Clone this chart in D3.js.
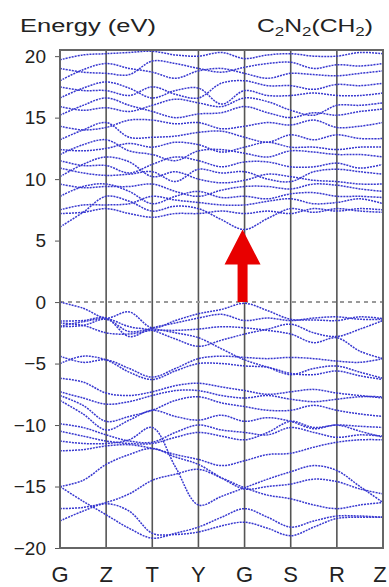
<!DOCTYPE html>
<html>
<head>
<meta charset="utf-8">
<script src="https://cdn.jsdelivr.net/npm/d3@7"></script>
<style>
  body { margin: 0; background: #fff; }
  svg { display: block; }
</style>
</head>
<body>
<div id="chart"></div>
<script>
// high symmetry points along the path
var kLabels = ["G", "Z", "T", "Y", "G", "S", "R", "Z"];
// energies are read at every k-point and half way between them
var kSamples = [0, 0.5, 1, 1.5, 2, 2.5, 3, 3.5, 4, 4.5, 5, 5.5, 6, 6.5, 7];
var energyTicks = [-20, -15, -10, -5, 0, 5, 10, 15, 20];

var valenceBands = [
  [0.0, -0.5, -1.3, -0.8, -2.1, -1.5, -0.95, -0.6, -0.1, -0.7, -1.4, -1.45, -1.5, -1.2, -1.35],
  [-1.55, -1.5, -1.3, -2.8, -2.1, -1.7, -1.3, -1.0, -1.5, -1.3, -1.5, -1.3, -1.2, -1.4, -1.4],
  [-1.95, -1.6, -1.35, -2.0, -2.3, -3.0, -3.6, -3.1, -2.6, -2.2, -1.8, -2.5, -2.8, -2.2, -1.5],
  [-2.0, -1.9, -1.4, -2.4, -2.2, -2.5, -2.9, -3.8, -4.7, -5.3, -5.9, -5.4, -5.2, -5.7, -6.2],
  [-1.7, -1.9, -2.5, -2.6, -2.3, -2.3, -2.2, -2.0, -2.1, -2.3, -2.6, -3.3, -2.9, -4.0, -4.6],
  [-4.4, -4.9, -4.7, -5.4, -6.1, -5.4, -4.6, -4.4, -4.5, -4.6, -4.5, -4.6, -4.8, -4.9, -4.6],
  [-5.0, -4.4, -4.7, -5.7, -6.3, -5.6, -5.0, -5.0, -5.2, -5.3, -5.8, -5.9, -5.6, -6.0, -6.3],
  [-6.2, -6.5, -7.4, -7.6, -7.3, -6.8, -6.6, -6.9, -7.2, -7.5, -7.3, -7.1, -7.4, -7.6, -7.8],
  [-7.3, -7.8, -8.3, -8.1, -7.6, -7.2, -7.2, -7.6, -7.8, -7.6, -7.9, -8.1, -7.9, -7.7, -7.7],
  [-7.6, -8.4, -9.7, -9.3, -8.8, -8.0, -7.7, -8.2, -8.5, -8.8, -8.8, -8.4, -8.8, -9.1, -9.3],
  [-8.0, -9.1, -10.4, -9.6, -8.8, -9.3, -9.6, -9.2, -9.7, -9.4, -9.7, -10.3, -10.0, -10.5, -11.0],
  [-9.9, -10.2, -10.8, -11.3, -11.4, -10.6, -10.0, -10.4, -10.6, -10.8, -10.2, -10.6, -11.0, -10.8, -10.9],
  [-10.5, -10.9, -11.3, -11.5, -11.5, -11.0, -10.6, -10.9, -11.2, -10.6, -9.7, -10.2, -10.0, -10.1, -10.2],
  [-11.3, -11.5, -11.5, -11.2, -10.2, -13.4, -16.5, -15.8, -15.1, -14.4, -13.8, -13.3, -13.7, -15.0, -16.3],
  [-12.1, -12.0, -11.7, -11.6, -11.9, -12.4, -12.8, -13.3, -12.9, -12.4, -12.3, -11.8, -11.4, -11.2, -11.2],
  [-15.0, -14.5, -13.2, -12.4, -11.9, -12.6, -13.2, -14.3, -15.2, -15.0, -14.8, -14.4, -14.6, -15.2, -15.6],
  [-15.0, -16.2, -17.3, -18.4, -19.2, -18.8, -18.3, -17.5, -16.8, -17.5, -18.3, -17.8, -17.4, -17.4, -17.5],
  [-16.8, -16.7, -16.3, -15.6, -14.5, -14.0, -13.6, -14.3, -15.1, -15.7, -16.0, -16.5, -16.8, -16.5, -16.3],
  [-17.8, -17.0, -16.4, -17.0, -18.8, -18.9, -18.7, -18.2, -17.9, -18.4, -19.0, -18.3, -17.6, -17.5, -17.5]
];

var conductionBands = [
  [6.1, 7.3, 8.6, 8.2, 7.4, 7.8, 7.6, 6.7, 5.9, 6.8, 7.6, 7.3, 7.6, 7.4, 7.3],
  [7.2, 7.3, 7.6, 7.2, 6.9, 7.2, 7.2, 7.4, 7.2, 7.4, 7.2, 7.6, 7.4, 7.6, 7.5],
  [7.5, 7.9, 7.9, 8.0, 8.6, 8.3, 8.1, 7.9, 7.9, 8.2, 8.4, 8.0, 8.1, 8.4, 8.0],
  [8.6, 9.4, 9.6, 9.0, 8.0, 8.6, 9.0, 8.5, 8.6, 8.4, 8.8, 8.9, 8.6, 8.6, 8.5],
  [9.6, 9.3, 9.4, 9.4, 9.6, 9.0, 8.6, 9.1, 9.4, 9.4, 9.2, 9.6, 9.5, 9.2, 9.0],
  [10.2, 11.2, 11.8, 11.4, 10.2, 10.6, 10.0, 9.7, 9.9, 10.4, 10.2, 9.9, 9.8, 9.6, 9.6],
  [10.9, 10.5, 10.3, 10.4, 10.6, 9.8, 10.8, 10.5, 10.6, 10.0, 9.8, 10.6, 10.8, 10.6, 10.4],
  [11.5, 11.1, 11.1, 10.5, 11.2, 11.8, 11.5, 11.0, 11.4, 11.4, 11.0, 11.0, 11.3, 10.9, 11.2],
  [12.0, 12.8, 13.2, 12.3, 12.0, 11.5, 12.3, 12.4, 12.1, 11.8, 12.3, 12.2, 12.0, 12.0, 11.8],
  [12.4, 12.3, 12.5, 12.9, 12.6, 13.0, 12.8, 12.2, 12.6, 13.0, 12.6, 12.6, 12.4, 12.6, 12.6],
  [13.2, 14.0, 14.6, 13.4, 13.4, 13.5, 13.8, 13.9, 13.4, 13.0, 13.6, 13.2, 13.6, 13.3, 13.3],
  [14.3, 14.0, 14.2, 14.8, 14.8, 14.5, 14.6, 14.1, 14.3, 14.6, 14.4, 14.8, 14.2, 14.3, 14.6],
  [15.2, 16.0, 16.6, 16.0, 15.5, 15.0, 15.3, 15.4, 15.9, 15.4, 15.0, 15.4, 15.2, 15.5, 15.7],
  [15.9, 15.6, 15.8, 15.5, 16.0, 16.5, 16.2, 15.9, 16.6, 16.3, 15.6, 15.2, 16.0, 16.0, 16.2],
  [16.6, 17.4, 17.9, 17.4, 16.6, 17.2, 17.4, 16.1, 17.2, 16.8, 16.8, 17.0, 16.8, 16.8, 17.0],
  [17.5, 17.2, 17.2, 16.8, 17.5, 16.9, 16.6, 17.8, 18.0, 17.6, 17.6, 17.3, 17.7, 17.6, 17.8],
  [18.0, 18.9, 19.4, 19.0, 18.7, 18.2, 18.8, 19.0, 18.6, 18.2, 18.6, 18.5, 18.4, 18.6, 18.8],
  [19.0, 18.7, 18.6, 18.5, 19.6, 19.4, 19.0, 18.7, 19.1, 19.4, 19.5, 19.0, 19.3, 19.2, 19.4],
  [19.7, 20.1, 20.2, 20.3, 20.4, 20.1, 20.0, 20.3, 19.8, 20.1, 20.2, 20.0, 20.0, 20.3, 20.2]
];

// gap arrow at the second G point, from the VBM up to the CBM
var gapArrow = { k: 4, from: 0, to: 5.9 };

var margin = {top: 50, right: 6, bottom: 39, left: 60},
    width = 389 - margin.left - margin.right,
    height = 587 - margin.top - margin.bottom;

var svg = d3.select("#chart")
  .append("svg")
    .attr("width", width + margin.left + margin.right)
    .attr("height", height + margin.top + margin.bottom)
    .style("font-family", "Arial, 'Liberation Sans', sans-serif");

var g = svg.append("g")
    .attr("transform", "translate(" + margin.left + "," + margin.top + ")");

var x = d3.scaleLinear()
  .domain([0, kLabels.length - 1])
  .range([0, width]);

var y = d3.scaleLinear()
  .domain([-20, 20.5])
  .range([height, 0]);

g.append("clipPath")
    .attr("id", "clip")
  .append("rect")
    .attr("width", width)
    .attr("height", height);

// y axis, ticks pointing out
var yAxis = g.append("g")
  .call(d3.axisLeft(y).tickValues(energyTicks).tickSize(5).tickPadding(9))
yAxis.select(".domain").remove()
yAxis.selectAll("line").attr("stroke", "#555")
yAxis.selectAll("text")
  .attr("fill", "#222")
  .style("font-size", "19px")
  .style("font-family", "Arial, 'Liberation Sans', sans-serif")

// vertical lines at the k-points
g.selectAll(".kline")
  .data(kLabels)
  .enter()
  .append("line")
  .attr("x1", (d, i) => x(i))
  .attr("x2", (d, i) => x(i))
  .attr("y1", 0)
  .attr("y2", height)
  .attr("stroke", "#555")
  .attr("stroke-width", 1.6)

// Fermi level
g.append("line")
  .attr("x1", 0)
  .attr("x2", width)
  .attr("y1", y(0))
  .attr("y2", y(0))
  .attr("stroke", "#999")
  .attr("stroke-width", 2)
  .attr("stroke-dasharray", "4,4")

var line = d3.line()
  .x((d, i) => x(kSamples[i]))
  .y(d => y(d))
  .curve(d3.curveCatmullRom.alpha(0.5))

g.append("g")
  .attr("clip-path", "url(#clip)")
  .selectAll("path")
  .data(valenceBands.concat(conductionBands))
  .enter()
  .append("path")
  .attr("d", line)
  .attr("fill", "none")
  .attr("stroke", "#3838d0")
  .attr("stroke-width", 1.5)
  .attr("stroke-dasharray", "2,1")

// frame
g.append("rect")
  .attr("width", width)
  .attr("height", height)
  .attr("fill", "none")
  .attr("stroke", "#666")
  .attr("stroke-width", 2)

// red arrow
var ax = x(gapArrow.k) - 2, y0 = y(gapArrow.from), y1 = y(gapArrow.to);
var shaft = 5, head = 18, headLen = 35;
g.append("path")
  .attr("d", d3.line()([
    [ax - shaft, y0], [ax - shaft, y1 + headLen], [ax - head, y1 + headLen],
    [ax, y1], [ax + head, y1 + headLen], [ax + shaft, y1 + headLen], [ax + shaft, y0]
  ]) + "Z")
  .attr("fill", "#e80000")

// k labels
g.selectAll(".klabel")
  .data(kLabels)
  .enter()
  .append("text")
  .attr("x", (d, i) => Math.min(x(i), width - 3))
  .attr("y", height + 34)
  .attr("text-anchor", "middle")
  .attr("fill", "#222")
  .style("font-size", "22px")
  .text(d => d)

svg.append("text")
  .attr("x", 20)
  .attr("y", 32)
  .attr("fill", "#222")
  .attr("textLength", 136)
  .attr("lengthAdjust", "spacingAndGlyphs")
  .style("font-size", "18px")
  .text("Energy  (eV)")

var title = svg.append("text")
  .attr("transform", "translate(257,32) scale(1.3,1)")
  .attr("fill", "#222")
  .style("font-size", "19px")
title.append("tspan").text("C")
title.append("tspan").attr("dy", 4).style("font-size", "13px").text("2")
title.append("tspan").attr("dy", -4).text("N")
title.append("tspan").attr("dy", 4).style("font-size", "13px").text("2")
title.append("tspan").attr("dy", -4).text("(CH")
title.append("tspan").attr("dy", 4).style("font-size", "13px").text("2")
title.append("tspan").attr("dy", -4).text(")")
</script>
</body>
</html>
